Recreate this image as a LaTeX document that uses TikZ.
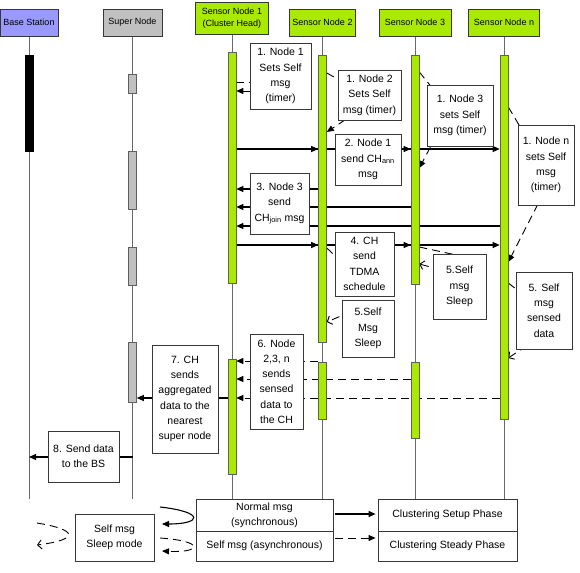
\documentclass[tikz,border=0pt]{standalone}
\usepackage{fontspec}
\setmainfont{Liberation Sans}
\usetikzlibrary{arrows.meta}
\pgfdeclarelayer{back}
\pgfdeclarelayer{mid}
\pgfsetlayers{back,mid,main}
\definecolor{lime}{RGB}{170,234,0}
\definecolor{peri}{RGB}{153,153,255}
\definecolor{sgray}{RGB}{192,192,192}
\definecolor{lline}{RGB}{105,105,105}
\definecolor{bord}{RGB}{55,55,55}
\begin{document}
\begin{tikzpicture}[x=1pt,y=-1pt,
 hdr/.style={draw=bord, line width=0.8pt, inner sep=0pt, align=center, font=\fontsize{9}{12.5}\selectfont, minimum height=27pt},
 bar/.style={draw=bord!80, line width=0.6pt, fill=lime, minimum width=8pt, inner sep=0pt},
 txt/.style={draw=bord, line width=0.8pt, fill=white, inner sep=0pt, align=center, font=\fontsize{10.5}{15.3}\selectfont},
 life/.style={draw=lline, line width=0.9pt},
 msg/.style={draw=black, line width=1.1pt, -{Triangle[length=7pt,width=6pt]}},
 dmsg/.style={draw=black, line width=0.9pt, dash pattern=on 8pt off 5pt, -{Triangle[length=7pt,width=6pt]}},
 omsg/.style={draw=black, line width=0.9pt, dash pattern=on 8pt off 5pt, -{Straight Barb[length=4pt,width=9pt]}},
]
\useasboundingbox (0,0) rectangle (580,572);

% headers
\node[hdr, fill=peri, minimum width=58pt] (bs) at (29,22.5) {Base Station};
\node[hdr, fill=sgray, minimum width=59pt] (sn) at (132.5,22.5) {Super Node};
\node[hdr, fill=lime, minimum width=73pt, minimum height=32pt] (s1) at (232,18) {Sensor Node 1\\(Cluster Head)};
\node[hdr, fill=lime, minimum width=66pt] (s2) at (322.5,22.5) {Sensor Node 2};
\node[hdr, fill=lime, minimum width=72pt] (s3) at (415,22.5) {Sensor Node 3};
\node[hdr, fill=lime, minimum width=71pt] (snn) at (504,22.5) {Sensor Node n};

\coordinate (e-bs) at (29,499);
\coordinate (e-sn) at (132.5,499);
\coordinate (e-s1) at (232,499);
\coordinate (e-s2) at (322.5,499);
\coordinate (e-s3) at (415,499);
\coordinate (e-snn) at (504,499);

% activation bars
\node[bar, fill=black, draw=black, minimum height=96pt] (bsb) at (29,103) {};
\node[bar, fill=sgray, minimum height=19pt] (sb1) at (132.5,83.5) {};
\node[bar, fill=sgray, minimum height=58pt] (sb2) at (132.5,180) {};
\node[bar, fill=sgray, minimum height=38pt] (sb3) at (132.5,266) {};
\node[bar, fill=sgray, minimum height=60pt] (sb4) at (132.5,372) {};
\node[bar, minimum height=231pt] (b1a) at (232,167.5) {};
\node[bar, minimum height=115pt] (b1b) at (232,416.5) {};
\node[bar, minimum height=287pt] (b2a) at (322.5,198.5) {};
\node[bar, minimum height=57pt] (b2b) at (322.5,390.5) {};
\node[bar, minimum height=229pt] (b3a) at (415,169.5) {};
\node[bar, minimum height=76pt] (b3b) at (415,400) {};
\node[bar, minimum height=364pt] (bna) at (504,237) {};

% text boxes
\node[txt, minimum width=61pt, minimum height=66pt] (t1) at (280.5,76) {1. Node 1\\Sets Self\\msg\\(timer)};
\node[txt, minimum width=63pt, minimum height=50pt] (t2) at (369.5,95) {1. Node 2\\Sets Self\\msg (timer)};
\node[txt, minimum width=66pt, minimum height=61pt] (t3) at (460,115.5) {1. Node 3\\sets Self\\msg (timer)};
\node[txt, minimum width=56pt, minimum height=80pt] (tn) at (546,165) {1. Node n\\sets Self\\msg\\(timer)};
\node[txt, minimum width=66pt, minimum height=51pt] (t2a) at (368,159.5) {2. Node 1\\send CH\textsubscript{ann}\\msg};
\node[txt, minimum width=59pt, minimum height=61pt] (t3j) at (279.5,203.5) {3. Node 3\\send\\CH\textsubscript{join} msg};
\node[txt, minimum width=59pt, minimum height=64pt] (t4) at (364.5,264) {4. CH\\send\\TDMA\\schedule};
\node[txt, minimum width=53pt, minimum height=65pt] (t5a) at (459.5,286.5) {5.Self\\msg\\Sleep};
\node[txt, minimum width=52pt, minimum height=57pt] (t5b) at (368,328.5) {5.Self\\Msg\\Sleep};
\node[txt, minimum width=56pt, minimum height=77pt] (t5c) at (544,310.5) {5. Self\\msg\\sensed\\data};
\node[txt, minimum width=53pt, minimum height=95pt] (t6) at (276.5,381.5) {6. Node\\2,3, n\\sends\\sensed\\data to\\the CH};
\node[txt, minimum width=66pt, minimum height=108pt] (t7) at (185,399) {7. CH\\sends\\aggregated\\data to the\\nearest\\super node};
\node[txt, minimum width=71pt, minimum height=51pt] (t8) at (83.5,456.5) {8. Send data\\to the BS};

% legend
\node[txt, minimum width=137pt, minimum height=32pt] (nm) at (264.5,515) {Normal msg\\(synchronous)};
\node[txt, minimum width=137pt, minimum height=30pt] (sm) at (264.5,546) {Self msg (asynchronous)};
\node[txt, minimum width=139pt, minimum height=32pt] (cs) at (447.5,515) {Clustering Setup Phase};
\node[txt, minimum width=139pt, minimum height=30pt] (cst) at (447.5,546) {Clustering Steady Phase};
\node[txt, minimum width=79pt, minimum height=47pt] (sl) at (114.5,537.5) {Self msg\\Sleep mode};

\begin{pgfonlayer}{back}
\draw[life] (bs) -- (e-bs);
\draw[life] (sn) -- (e-sn);
\draw[life] (s1) -- (e-s1);
\draw[life] (s2) -- (e-s2);
\draw[life] (s3) -- (e-s3);
\draw[life] (snn) -- (e-snn);
\end{pgfonlayer}

\begin{pgfonlayer}{mid}
% self messages (timer)
\draw[dmsg] (b1a.east |- 0,82) -- (265,82) -- (265,91) -- (b1a.east |- 0,91);
\draw[dmsg] (b2a.east |- 0,73) -- (375,100) -- (b2a.east |- 0,132);
\draw[dmsg] (b3a.east |- 0,72) -- (450,110) -- (b3a.east |- 0,168);
\draw[dmsg] (bna.east |- 0,107) -- (525,135) -- (540,200) -- (bna.east |- 0,262);
% 2. CH announcement
\draw[msg] (b1a.east |- 0,149) -- (bna.west |- 0,149);
\draw[msg] (b1a.east |- 0,149) -- (b3a.west |- 0,149);
\draw[msg] (b1a.east |- 0,149) -- (b2a.west |- 0,149);
% 3. join
\draw[msg] (b2a.west |- 0,189) -- (b1a.east |- 0,189);
\draw[msg] (b3a.west |- 0,207) -- (b1a.east |- 0,207);
\draw[msg] (bna.west |- 0,226) -- (b1a.east |- 0,226);
% 4. TDMA
\draw[msg] (b1a.east |- 0,245) -- (bna.west |- 0,245);
\draw[msg] (b1a.east |- 0,245) -- (b3a.west |- 0,245);
\draw[msg] (b1a.east |- 0,245) -- (b2a.west |- 0,245);
% 5. sleep / sensed
\draw[omsg] (b2a.east |- 0,248) -- (355,275) -- (355,310) -- (b2a.east |- 0,322);
\draw[omsg] (b3a.east |- 0,247) -- (470,258) -- (460,275) -- (b3a.east |- 0,264);
\draw[omsg] (bna.east |- 0,283) -- (530,300) -- (535,340) -- (bna.east |- 0,358);
% 6. sensed data
\draw[dmsg] (b2b.west |- 0,361) -- (b1b.east |- 0,361);
\draw[dmsg] (b3b.west |- 0,379) -- (b1b.east |- 0,379);
\draw[dmsg] (bna.west |- 0,398) -- (b1b.east |- 0,398);
% 7. aggregated to super node
\draw[msg] (b1b.west |- 0,398) -- (sb4.east |- 0,398);
% 8. to BS
\draw[msg] (sn.south |- 0,457) -- (bs.south |- 0,457);
\end{pgfonlayer}

% legend connectors
\draw[msg, shorten <=2pt, shorten >=2pt] (nm.east |- 0,514) -- (cs.west |- 0,514);
\draw[dmsg, shorten <=2pt, shorten >=2pt] (sm.east |- 0,538) -- (cst.west |- 0,538);
\coordinate (ca1) at (160,507);
\coordinate (ca2) at (162,524);
\coordinate (cb1) at (160,538);
\coordinate (cb2) at (162,551);
\coordinate (cc1) at (37,523);
\coordinate (cc2) at (37,545);
\draw[msg] (ca1) .. controls (205,512) and (202,524) .. (ca2);
\draw[dmsg] (cb1) .. controls (205,541) and (202,553) .. (cb2);
\draw[omsg] (cc1) .. controls (80,530) and (78,540) .. (cc2);
\end{tikzpicture}
\end{document}
